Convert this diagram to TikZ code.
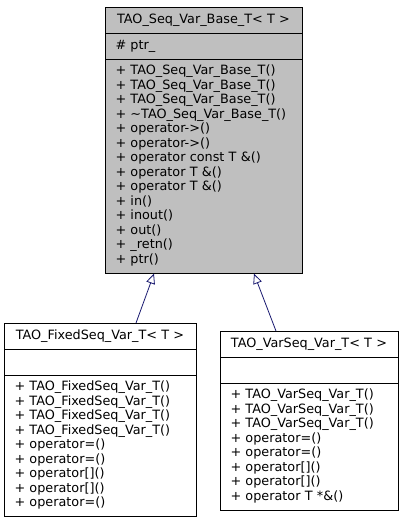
\documentclass[tikz,border=0pt]{standalone}
\usepackage{fontspec}
\setmainfont{DejaVu Sans}
\usetikzlibrary{shapes.multipart, arrows.meta, positioning}

\begin{document}
\begin{tikzpicture}[
            x=1pt, y=1pt,
            % --- 样式定义 ---
            classbox/.style={rectangle split, rectangle split parts=3, draw, line width=0.8pt,
                          fill=white, inner xsep=10.5pt, inner ysep=5.25pt, align=left,
                          font=\fontsize{12.8}{14.5}\selectfont, anchor=north},
            base/.style={classbox, fill=black!25},
            inherit/.style={draw, midnightblue, line width=0.8pt,
                            -{Triangle[open, length=10pt, width=9pt, fill=white]}}
        ]
        \definecolor{midnightblue}{RGB}{25,25,112}
        \useasboundingbox (0,0) rectangle (404,-523);

        % --- 节点定义 ---
        \node[base, text width=176pt] (seqbase) at (203.5,-7) {
            \makebox[\linewidth]{\strut TAO\_Seq\_Var\_Base\_T< T >}
            \nodepart{two}\strut \# ptr\_
            \nodepart{three}\strut + TAO\_Seq\_Var\_Base\_T()\\
            + TAO\_Seq\_Var\_Base\_T()\\
            + TAO\_Seq\_Var\_Base\_T()\\
            + \textasciitilde TAO\_Seq\_Var\_Base\_T()\\
            + operator->()\\
            + operator->()\\
            + operator const T \&()\\
            + operator T \&()\\
            + operator T \&()\\
            + in()\\
            + inout()\\
            + out()\\
            + \_retn()\\
            + ptr()\strut
        };
        \node[classbox, text width=171pt] (fixedseq) at (100,-323) {
            \makebox[\linewidth]{\strut TAO\_FixedSeq\_Var\_T< T >}
            \nodepart{two}\strut
            \nodepart{three}\strut + TAO\_FixedSeq\_Var\_T()\\
            + TAO\_FixedSeq\_Var\_T()\\
            + TAO\_FixedSeq\_Var\_T()\\
            + TAO\_FixedSeq\_Var\_T()\\
            + operator=()\\
            + operator=()\\
            + operator[]()\\
            + operator[]()\\
            + operator=()\strut
        };
        \node[classbox, text width=157pt] (varseq) at (309,-331) {
            \makebox[\linewidth]{\strut TAO\_VarSeq\_Var\_T< T >}
            \nodepart{two}\strut
            \nodepart{three}\strut + TAO\_VarSeq\_Var\_T()\\
            + TAO\_VarSeq\_Var\_T()\\
            + TAO\_VarSeq\_Var\_T()\\
            + operator=()\\
            + operator=()\\
            + operator[]()\\
            + operator[]()\\
            + operator T *\&()\strut
        };

        % --- 连线定义 ---
        \path[inherit] ([xshift=36pt]fixedseq.north) -- ([xshift=-49.5pt]seqbase.south);
        \path[inherit] ([xshift=-33pt]varseq.north) -- ([xshift=50.5pt]seqbase.south);

        \end{tikzpicture}
\end{document}
